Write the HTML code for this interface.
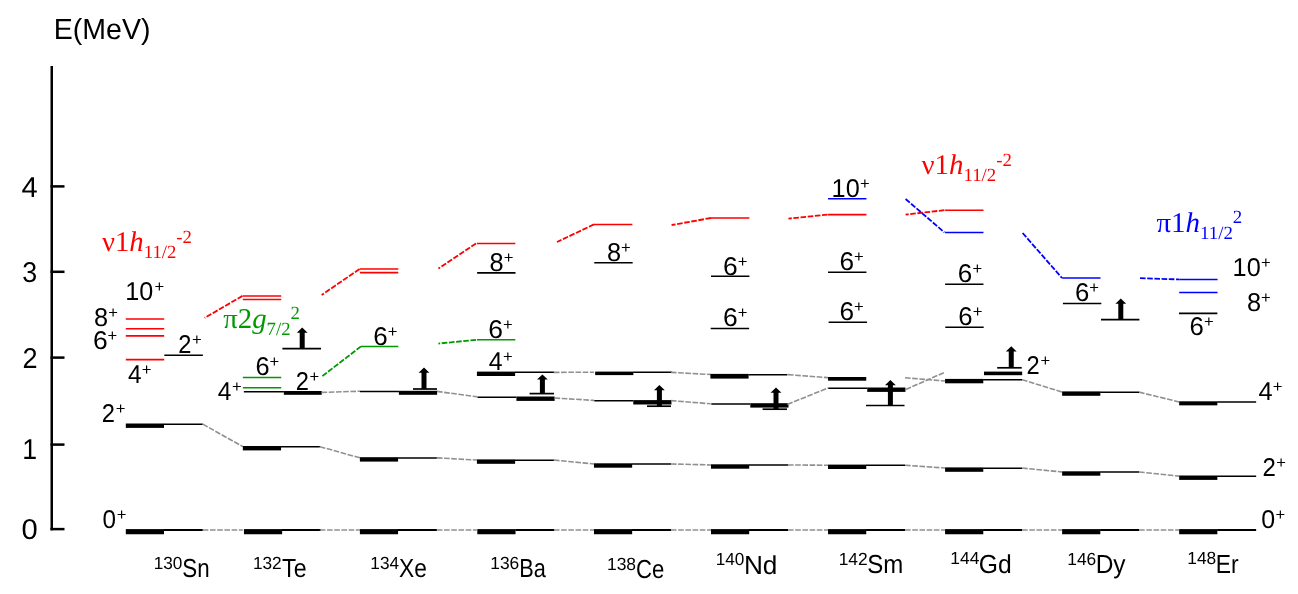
<!DOCTYPE html>
<html><head><meta charset="utf-8"><title>Level systematics N=80</title>
<style>html,body{margin:0;padding:0;background:#fff}svg{display:block}</style></head>
<body><svg width="1298" height="594" viewBox="0 0 1298 594" shape-rendering="auto" text-rendering="geometricPrecision">
<rect width="1298" height="594" fill="#fff"/>
<rect x="50.50" y="66.00" width="2.50" height="464.30" fill="#000"/>
<rect x="50.50" y="185.15" width="14.00" height="2.50" fill="#000"/>
<rect x="50.50" y="270.55" width="14.00" height="2.50" fill="#000"/>
<rect x="50.50" y="356.35" width="14.00" height="2.50" fill="#000"/>
<rect x="50.50" y="443.35" width="14.00" height="2.50" fill="#000"/>
<rect x="50.50" y="527.85" width="14.00" height="2.50" fill="#000"/>
<rect x="125.80" y="529.10" width="38.20" height="5.15" fill="#000"/>
<line x1="163.80" y1="530.00" x2="202.80" y2="530.00" stroke="#000" stroke-width="1.8"/>
<line x1="202.80" y1="530.00" x2="242.84" y2="530.00" stroke="#909090" stroke-width="1.6" stroke-dasharray="5.6 1.6"/>
<rect x="243.94" y="529.10" width="38.20" height="5.15" fill="#000"/>
<line x1="281.94" y1="530.00" x2="320.94" y2="530.00" stroke="#000" stroke-width="1.8"/>
<line x1="319.84" y1="530.00" x2="359.88" y2="530.00" stroke="#909090" stroke-width="1.6" stroke-dasharray="5.6 1.6"/>
<rect x="359.88" y="529.10" width="38.20" height="5.15" fill="#000"/>
<line x1="397.88" y1="530.00" x2="436.88" y2="530.00" stroke="#000" stroke-width="1.8"/>
<line x1="436.88" y1="530.00" x2="476.92" y2="530.00" stroke="#909090" stroke-width="1.6" stroke-dasharray="5.6 1.6"/>
<rect x="477.32" y="529.10" width="38.20" height="5.15" fill="#000"/>
<line x1="515.32" y1="530.00" x2="554.32" y2="530.00" stroke="#000" stroke-width="1.8"/>
<line x1="553.92" y1="530.00" x2="593.96" y2="530.00" stroke="#909090" stroke-width="1.6" stroke-dasharray="5.6 1.6"/>
<rect x="593.96" y="529.10" width="38.20" height="5.15" fill="#000"/>
<line x1="631.96" y1="530.00" x2="670.96" y2="530.00" stroke="#000" stroke-width="1.8"/>
<line x1="670.96" y1="530.00" x2="711.00" y2="530.00" stroke="#909090" stroke-width="1.6" stroke-dasharray="5.6 1.6"/>
<rect x="711.00" y="529.10" width="38.20" height="5.15" fill="#000"/>
<line x1="749.00" y1="530.00" x2="788.00" y2="530.00" stroke="#000" stroke-width="1.8"/>
<line x1="788.00" y1="530.00" x2="828.04" y2="530.00" stroke="#909090" stroke-width="1.6" stroke-dasharray="5.6 1.6"/>
<rect x="828.04" y="529.10" width="38.20" height="5.15" fill="#000"/>
<line x1="866.04" y1="530.00" x2="905.04" y2="530.00" stroke="#000" stroke-width="1.8"/>
<line x1="905.04" y1="530.00" x2="945.08" y2="530.00" stroke="#909090" stroke-width="1.6" stroke-dasharray="5.6 1.6"/>
<rect x="945.08" y="529.10" width="38.20" height="5.15" fill="#000"/>
<line x1="983.08" y1="530.00" x2="1022.08" y2="530.00" stroke="#000" stroke-width="1.8"/>
<line x1="1022.08" y1="530.00" x2="1062.12" y2="530.00" stroke="#909090" stroke-width="1.6" stroke-dasharray="5.6 1.6"/>
<rect x="1062.12" y="529.10" width="38.20" height="5.15" fill="#000"/>
<line x1="1100.12" y1="530.00" x2="1139.12" y2="530.00" stroke="#000" stroke-width="1.8"/>
<line x1="1139.12" y1="530.00" x2="1179.16" y2="530.00" stroke="#909090" stroke-width="1.6" stroke-dasharray="5.6 1.6"/>
<rect x="1179.16" y="529.10" width="38.20" height="5.15" fill="#000"/>
<line x1="1217.16" y1="530.00" x2="1256.16" y2="530.00" stroke="#000" stroke-width="1.8"/>
<rect x="125.80" y="423.50" width="38.20" height="4.40" fill="#000"/>
<line x1="163.80" y1="424.25" x2="202.80" y2="424.25" stroke="#000" stroke-width="1.5"/>
<line x1="202.80" y1="424.15" x2="242.84" y2="446.65" stroke="#909090" stroke-width="1.6" stroke-dasharray="5.6 1.6"/>
<rect x="242.84" y="446.00" width="38.20" height="4.40" fill="#000"/>
<line x1="280.84" y1="446.75" x2="319.84" y2="446.75" stroke="#000" stroke-width="1.5"/>
<line x1="319.84" y1="446.65" x2="359.88" y2="457.85" stroke="#909090" stroke-width="1.6" stroke-dasharray="5.6 1.6"/>
<rect x="359.88" y="457.20" width="38.20" height="4.40" fill="#000"/>
<line x1="397.88" y1="457.95" x2="436.88" y2="457.95" stroke="#000" stroke-width="1.5"/>
<line x1="436.88" y1="457.85" x2="476.92" y2="460.05" stroke="#909090" stroke-width="1.6" stroke-dasharray="5.6 1.6"/>
<rect x="476.92" y="459.40" width="38.20" height="4.40" fill="#000"/>
<line x1="514.92" y1="460.15" x2="553.92" y2="460.15" stroke="#000" stroke-width="1.5"/>
<line x1="553.92" y1="460.05" x2="593.96" y2="463.95" stroke="#909090" stroke-width="1.6" stroke-dasharray="5.6 1.6"/>
<rect x="593.96" y="463.30" width="38.20" height="4.40" fill="#000"/>
<line x1="631.96" y1="464.05" x2="670.96" y2="464.05" stroke="#000" stroke-width="1.5"/>
<line x1="670.96" y1="463.95" x2="711.00" y2="464.95" stroke="#909090" stroke-width="1.6" stroke-dasharray="5.6 1.6"/>
<rect x="711.00" y="464.30" width="38.20" height="4.40" fill="#000"/>
<line x1="749.00" y1="465.05" x2="788.00" y2="465.05" stroke="#000" stroke-width="1.5"/>
<line x1="788.00" y1="464.95" x2="828.04" y2="465.25" stroke="#909090" stroke-width="1.6" stroke-dasharray="5.6 1.6"/>
<rect x="828.04" y="464.60" width="38.20" height="4.40" fill="#000"/>
<line x1="866.04" y1="465.35" x2="905.04" y2="465.35" stroke="#000" stroke-width="1.5"/>
<line x1="905.04" y1="465.25" x2="945.08" y2="468.05" stroke="#909090" stroke-width="1.6" stroke-dasharray="5.6 1.6"/>
<rect x="945.08" y="467.40" width="38.20" height="4.40" fill="#000"/>
<line x1="983.08" y1="468.15" x2="1022.08" y2="468.15" stroke="#000" stroke-width="1.5"/>
<line x1="1022.08" y1="468.05" x2="1062.12" y2="471.95" stroke="#909090" stroke-width="1.6" stroke-dasharray="5.6 1.6"/>
<rect x="1062.12" y="471.30" width="38.20" height="4.40" fill="#000"/>
<line x1="1100.12" y1="472.05" x2="1139.12" y2="472.05" stroke="#000" stroke-width="1.5"/>
<line x1="1139.12" y1="471.95" x2="1179.16" y2="476.15" stroke="#909090" stroke-width="1.6" stroke-dasharray="5.6 1.6"/>
<rect x="1179.16" y="475.50" width="38.20" height="4.40" fill="#000"/>
<line x1="1217.16" y1="476.25" x2="1256.16" y2="476.25" stroke="#000" stroke-width="1.5"/>
<rect x="476.92" y="371.60" width="38.20" height="4.40" fill="#000"/>
<line x1="514.92" y1="372.35" x2="553.92" y2="372.35" stroke="#000" stroke-width="1.5"/>
<line x1="553.92" y1="372.35" x2="593.96" y2="372.25" stroke="#909090" stroke-width="1.6" stroke-dasharray="5.6 1.6"/>
<rect x="595.16" y="371.60" width="38.20" height="3.50" fill="#000"/>
<line x1="633.16" y1="372.35" x2="672.16" y2="372.35" stroke="#000" stroke-width="1.5"/>
<line x1="670.96" y1="372.35" x2="711.00" y2="374.55" stroke="#909090" stroke-width="1.6" stroke-dasharray="5.6 1.6"/>
<rect x="710.40" y="373.90" width="38.20" height="4.70" fill="#000"/>
<line x1="748.40" y1="374.65" x2="787.40" y2="374.65" stroke="#000" stroke-width="1.5"/>
<line x1="788.00" y1="374.65" x2="828.04" y2="377.65" stroke="#909090" stroke-width="1.6" stroke-dasharray="5.6 1.6"/>
<rect x="828.04" y="377.00" width="38.20" height="3.70" fill="#000"/>
<line x1="905.04" y1="377.75" x2="945.08" y2="381.05" stroke="#909090" stroke-width="1.6" stroke-dasharray="5.6 1.6"/>
<rect x="945.08" y="378.90" width="38.20" height="4.40" fill="#000"/>
<line x1="983.08" y1="379.65" x2="1022.08" y2="379.65" stroke="#000" stroke-width="1.5"/>
<line x1="1022.08" y1="379.65" x2="1062.12" y2="392.05" stroke="#909090" stroke-width="1.6" stroke-dasharray="5.6 1.6"/>
<rect x="1062.12" y="391.40" width="38.20" height="4.40" fill="#000"/>
<line x1="1100.12" y1="392.15" x2="1139.12" y2="392.15" stroke="#000" stroke-width="1.5"/>
<line x1="1139.12" y1="392.15" x2="1179.16" y2="401.95" stroke="#909090" stroke-width="1.6" stroke-dasharray="5.6 1.6"/>
<rect x="1179.16" y="401.30" width="38.20" height="4.05" fill="#000"/>
<line x1="1217.16" y1="402.05" x2="1256.16" y2="402.05" stroke="#000" stroke-width="1.5"/>
<line x1="243.84" y1="391.75" x2="283.84" y2="391.75" stroke="#000" stroke-width="1.5"/>
<rect x="283.84" y="391.00" width="37.90" height="3.80" fill="#000"/>
<line x1="359.88" y1="391.55" x2="398.88" y2="391.55" stroke="#000" stroke-width="1.5"/>
<rect x="398.88" y="390.80" width="38.20" height="4.00" fill="#000"/>
<line x1="477.42" y1="397.25" x2="516.42" y2="397.25" stroke="#000" stroke-width="1.5"/>
<rect x="516.42" y="396.50" width="38.20" height="4.40" fill="#000"/>
<line x1="594.26" y1="400.85" x2="633.26" y2="400.85" stroke="#000" stroke-width="1.5"/>
<rect x="633.26" y="400.10" width="38.20" height="4.40" fill="#000"/>
<line x1="711.30" y1="403.95" x2="750.30" y2="403.95" stroke="#000" stroke-width="1.5"/>
<rect x="750.30" y="403.20" width="38.20" height="4.40" fill="#000"/>
<line x1="828.24" y1="388.25" x2="867.24" y2="388.25" stroke="#000" stroke-width="1.5"/>
<rect x="867.24" y="387.50" width="38.20" height="4.40" fill="#000"/>
<rect x="983.98" y="371.60" width="38.20" height="3.60" fill="#000"/>
<line x1="321.60" y1="392.40" x2="360.00" y2="391.20" stroke="#909090" stroke-width="1.6" stroke-dasharray="5.6 1.6"/>
<line x1="437.00" y1="391.40" x2="477.40" y2="396.80" stroke="#909090" stroke-width="1.6" stroke-dasharray="5.6 1.6"/>
<line x1="554.60" y1="398.00" x2="594.00" y2="400.40" stroke="#909090" stroke-width="1.6" stroke-dasharray="5.6 1.6"/>
<line x1="671.00" y1="400.60" x2="710.60" y2="403.80" stroke="#909090" stroke-width="1.6" stroke-dasharray="5.6 1.6"/>
<line x1="787.40" y1="404.40" x2="828.00" y2="388.00" stroke="#909090" stroke-width="1.6" stroke-dasharray="5.6 1.6"/>
<line x1="905.80" y1="389.50" x2="944.20" y2="372.50" stroke="#909090" stroke-width="1.6" stroke-dasharray="5.6 1.6"/>
<line x1="282.40" y1="348.60" x2="321.00" y2="348.60" stroke="#000" stroke-width="1.7"/>
<path d="M302.20 327.60 L307.60 332.80 L304.70 332.80 L304.70 348.60 L299.70 348.60 L299.70 332.80 L296.80 332.80 Z" fill="#000"/>
<line x1="413.00" y1="389.00" x2="437.00" y2="389.00" stroke="#000" stroke-width="1.7"/>
<path d="M424.00 367.60 L429.40 372.80 L426.50 372.80 L426.50 389.00 L421.50 389.00 L421.50 372.80 L418.60 372.80 Z" fill="#000"/>
<line x1="529.60" y1="393.60" x2="554.00" y2="393.60" stroke="#000" stroke-width="1.7"/>
<path d="M542.40 374.40 L547.80 379.60 L544.90 379.60 L544.90 393.60 L539.90 393.60 L539.90 379.60 L537.00 379.60 Z" fill="#000"/>
<line x1="647.00" y1="406.20" x2="671.00" y2="406.20" stroke="#000" stroke-width="1.7"/>
<path d="M659.40 385.00 L664.80 390.20 L661.90 390.20 L661.90 406.20 L656.90 406.20 L656.90 390.20 L654.00 390.20 Z" fill="#000"/>
<line x1="762.60" y1="409.20" x2="787.00" y2="409.20" stroke="#000" stroke-width="1.7"/>
<path d="M776.00 387.60 L781.40 392.80 L778.50 392.80 L778.50 409.20 L773.50 409.20 L773.50 392.80 L770.60 392.80 Z" fill="#000"/>
<line x1="866.00" y1="405.50" x2="904.50" y2="405.50" stroke="#000" stroke-width="1.7"/>
<path d="M890.40 380.00 L895.80 385.20 L892.90 385.20 L892.90 405.50 L887.90 405.50 L887.90 385.20 L885.00 385.20 Z" fill="#000"/>
<line x1="997.20" y1="367.80" x2="1021.70" y2="367.80" stroke="#000" stroke-width="1.7"/>
<path d="M1011.25 346.30 L1016.65 351.50 L1013.75 351.50 L1013.75 367.80 L1008.75 367.80 L1008.75 351.50 L1005.85 351.50 Z" fill="#000"/>
<line x1="1101.00" y1="319.70" x2="1139.40" y2="319.70" stroke="#000" stroke-width="1.7"/>
<path d="M1120.80 298.60 L1126.20 303.80 L1123.30 303.80 L1123.30 319.70 L1118.30 319.70 L1118.30 303.80 L1115.40 303.80 Z" fill="#000"/>
<line x1="164.30" y1="355.30" x2="202.90" y2="355.30" stroke="#000" stroke-width="1.6"/>
<line x1="125.80" y1="319.00" x2="164.20" y2="319.00" stroke="#ff0000" stroke-width="1.55"/>
<line x1="125.80" y1="328.70" x2="164.20" y2="328.70" stroke="#ff0000" stroke-width="1.55"/>
<line x1="125.80" y1="335.85" x2="164.20" y2="335.85" stroke="#ff0000" stroke-width="1.55"/>
<line x1="125.80" y1="359.60" x2="164.20" y2="359.60" stroke="#ff0000" stroke-width="1.55"/>
<line x1="242.84" y1="296.00" x2="281.24" y2="296.00" stroke="#ff0000" stroke-width="1.55"/>
<line x1="242.84" y1="299.50" x2="281.24" y2="299.50" stroke="#ff0000" stroke-width="1.55"/>
<line x1="242.50" y1="295.90" x2="204.60" y2="317.90" stroke="#ff0000" stroke-width="1.8" stroke-dasharray="5.6 1.6"/>
<line x1="359.88" y1="269.00" x2="398.28" y2="269.00" stroke="#ff0000" stroke-width="1.55"/>
<line x1="359.88" y1="272.60" x2="398.28" y2="272.60" stroke="#ff0000" stroke-width="1.55"/>
<line x1="359.60" y1="269.00" x2="321.60" y2="295.00" stroke="#ff0000" stroke-width="1.8" stroke-dasharray="5.6 1.6"/>
<line x1="476.92" y1="243.40" x2="515.32" y2="243.40" stroke="#ff0000" stroke-width="1.55"/>
<line x1="476.00" y1="243.40" x2="438.40" y2="268.60" stroke="#ff0000" stroke-width="1.8" stroke-dasharray="5.6 1.6"/>
<line x1="593.96" y1="224.40" x2="632.36" y2="224.40" stroke="#ff0000" stroke-width="1.55"/>
<line x1="594.00" y1="224.40" x2="557.00" y2="242.00" stroke="#ff0000" stroke-width="1.8" stroke-dasharray="5.6 1.6"/>
<line x1="711.00" y1="218.00" x2="749.40" y2="218.00" stroke="#ff0000" stroke-width="1.55"/>
<line x1="711.00" y1="218.00" x2="671.60" y2="225.00" stroke="#ff0000" stroke-width="1.8" stroke-dasharray="5.6 1.6"/>
<line x1="828.04" y1="214.60" x2="866.44" y2="214.60" stroke="#ff0000" stroke-width="1.55"/>
<line x1="827.60" y1="214.60" x2="788.40" y2="218.60" stroke="#ff0000" stroke-width="1.8" stroke-dasharray="5.6 1.6"/>
<line x1="945.08" y1="210.20" x2="983.48" y2="210.20" stroke="#ff0000" stroke-width="1.55"/>
<line x1="944.40" y1="210.20" x2="905.60" y2="214.60" stroke="#ff0000" stroke-width="1.8" stroke-dasharray="5.6 1.6"/>
<line x1="828.04" y1="198.80" x2="866.44" y2="198.80" stroke="#0000ff" stroke-width="1.55"/>
<line x1="945.08" y1="232.40" x2="983.48" y2="232.40" stroke="#0000ff" stroke-width="1.55"/>
<line x1="905.60" y1="199.00" x2="944.40" y2="232.40" stroke="#0000ff" stroke-width="1.8" stroke-dasharray="5.6 1.6"/>
<line x1="1062.12" y1="278.00" x2="1100.52" y2="278.00" stroke="#0000ff" stroke-width="1.55"/>
<line x1="1022.60" y1="233.00" x2="1062.00" y2="278.00" stroke="#0000ff" stroke-width="1.8" stroke-dasharray="5.6 1.6"/>
<line x1="1179.16" y1="279.40" x2="1217.56" y2="279.40" stroke="#0000ff" stroke-width="1.55"/>
<line x1="1179.16" y1="292.40" x2="1217.56" y2="292.40" stroke="#0000ff" stroke-width="1.55"/>
<line x1="1140.00" y1="278.20" x2="1179.00" y2="279.40" stroke="#0000ff" stroke-width="1.8" stroke-dasharray="5.6 1.6"/>
<line x1="242.84" y1="377.40" x2="281.24" y2="377.40" stroke="#009900" stroke-width="1.55"/>
<line x1="242.84" y1="387.80" x2="281.24" y2="387.80" stroke="#009900" stroke-width="1.55"/>
<line x1="361.00" y1="346.40" x2="398.28" y2="346.40" stroke="#009900" stroke-width="1.55"/>
<line x1="361.00" y1="346.40" x2="322.00" y2="376.40" stroke="#009900" stroke-width="1.8" stroke-dasharray="5.6 1.6"/>
<line x1="476.92" y1="339.80" x2="515.32" y2="339.80" stroke="#009900" stroke-width="1.55"/>
<line x1="476.00" y1="339.80" x2="438.40" y2="343.60" stroke="#009900" stroke-width="1.8" stroke-dasharray="5.6 1.6"/>
<line x1="477.12" y1="272.90" x2="515.52" y2="272.90" stroke="#000" stroke-width="1.6"/>
<line x1="594.26" y1="262.80" x2="632.66" y2="262.80" stroke="#000" stroke-width="1.6"/>
<line x1="711.00" y1="276.30" x2="749.40" y2="276.30" stroke="#000" stroke-width="1.6"/>
<line x1="710.70" y1="328.50" x2="749.10" y2="328.50" stroke="#000" stroke-width="1.6"/>
<line x1="828.04" y1="272.30" x2="866.44" y2="272.30" stroke="#000" stroke-width="1.6"/>
<line x1="828.64" y1="322.30" x2="867.04" y2="322.30" stroke="#000" stroke-width="1.6"/>
<line x1="945.08" y1="284.30" x2="983.48" y2="284.30" stroke="#000" stroke-width="1.6"/>
<line x1="945.28" y1="327.30" x2="983.68" y2="327.30" stroke="#000" stroke-width="1.6"/>
<line x1="1062.92" y1="303.50" x2="1101.32" y2="303.50" stroke="#000" stroke-width="1.6"/>
<line x1="1178.96" y1="313.40" x2="1217.36" y2="313.40" stroke="#000" stroke-width="1.6"/>
<text fill="#000" font-family='"Liberation Sans", sans-serif'><tspan x="21.55" y="196.80" font-size="28.6" textLength="16.18" lengthAdjust="spacingAndGlyphs">4</tspan></text>
<text fill="#000" font-family='"Liberation Sans", sans-serif'><tspan x="22.16" y="282.20" font-size="28.6" textLength="14.93" lengthAdjust="spacingAndGlyphs">3</tspan></text>
<text fill="#000" font-family='"Liberation Sans", sans-serif'><tspan x="22.43" y="368.00" font-size="28.6" textLength="15.07" lengthAdjust="spacingAndGlyphs">2</tspan></text>
<text fill="#000" font-family='"Liberation Sans", sans-serif'><tspan x="22.33" y="459.00" font-size="28.6" textLength="14.85" lengthAdjust="spacingAndGlyphs">1</tspan></text>
<text fill="#000" font-family='"Liberation Sans", sans-serif'><tspan x="21.49" y="538.80" font-size="28.6" textLength="16.24" lengthAdjust="spacingAndGlyphs">0</tspan></text>
<text fill="#000" font-family='"Liberation Sans", sans-serif'><tspan x="53.77" y="39.00" font-size="29" textLength="96.71" lengthAdjust="spacingAndGlyphs">E(MeV)</tspan></text>
<text fill="#000" font-family='"Liberation Sans", sans-serif'><tspan x="125.33" y="300.00" font-size="25.7" textLength="28.00" lengthAdjust="spacingAndGlyphs">10</tspan><tspan x="154.42" y="292.00" font-size="16.6">+</tspan></text>
<text fill="#000" font-family='"Liberation Sans", sans-serif'><tspan x="94.11" y="325.75" font-size="25.7" textLength="14.12" lengthAdjust="spacingAndGlyphs">8</tspan><tspan x="108.22" y="317.75" font-size="16.6">+</tspan></text>
<text fill="#000" font-family='"Liberation Sans", sans-serif'><tspan x="93.06" y="349.10" font-size="25.7" textLength="14.71" lengthAdjust="spacingAndGlyphs">6</tspan><tspan x="107.42" y="341.10" font-size="16.6">+</tspan></text>
<text fill="#000" font-family='"Liberation Sans", sans-serif'><tspan x="128.02" y="383.40" font-size="25.7" textLength="13.59" lengthAdjust="spacingAndGlyphs">4</tspan><tspan x="141.72" y="375.40" font-size="16.6">+</tspan></text>
<text fill="#000" font-family='"Liberation Sans", sans-serif'><tspan x="178.29" y="353.10" font-size="25.7" textLength="13.17" lengthAdjust="spacingAndGlyphs">2</tspan><tspan x="192.02" y="345.10" font-size="16.6">+</tspan></text>
<text fill="#000" font-family='"Liberation Sans", sans-serif'><tspan x="101.84" y="422.30" font-size="25.7" textLength="13.18" lengthAdjust="spacingAndGlyphs">2</tspan><tspan x="115.82" y="414.30" font-size="16.6">+</tspan></text>
<text fill="#000" font-family='"Liberation Sans", sans-serif'><tspan x="102.39" y="528.00" font-size="25.7" textLength="13.51" lengthAdjust="spacingAndGlyphs">0</tspan><tspan x="116.72" y="520.00" font-size="16.6">+</tspan></text>
<text fill="#000" font-family='"Liberation Sans", sans-serif'><tspan x="255.51" y="375.10" font-size="25.7" textLength="14.12" lengthAdjust="spacingAndGlyphs">6</tspan><tspan x="269.62" y="367.10" font-size="16.6">+</tspan></text>
<text fill="#000" font-family='"Liberation Sans", sans-serif'><tspan x="217.72" y="400.35" font-size="25.7" textLength="13.70" lengthAdjust="spacingAndGlyphs">4</tspan><tspan x="232.02" y="392.35" font-size="16.6">+</tspan></text>
<text fill="#000" font-family='"Liberation Sans", sans-serif'><tspan x="295.79" y="389.70" font-size="25.7" textLength="13.17" lengthAdjust="spacingAndGlyphs">2</tspan><tspan x="309.47" y="381.70" font-size="16.6">+</tspan></text>
<text fill="#000" font-family='"Liberation Sans", sans-serif'><tspan x="373.18" y="344.75" font-size="25.7" textLength="14.47" lengthAdjust="spacingAndGlyphs">6</tspan><tspan x="387.82" y="336.75" font-size="16.6">+</tspan></text>
<text fill="#000" font-family='"Liberation Sans", sans-serif'><tspan x="489.61" y="270.55" font-size="25.7" textLength="14.12" lengthAdjust="spacingAndGlyphs">8</tspan><tspan x="503.72" y="262.55" font-size="16.6">+</tspan></text>
<text fill="#000" font-family='"Liberation Sans", sans-serif'><tspan x="488.36" y="337.85" font-size="25.7" textLength="14.71" lengthAdjust="spacingAndGlyphs">6</tspan><tspan x="503.02" y="329.85" font-size="16.6">+</tspan></text>
<text fill="#000" font-family='"Liberation Sans", sans-serif'><tspan x="488.81" y="370.30" font-size="25.7" textLength="13.81" lengthAdjust="spacingAndGlyphs">4</tspan><tspan x="503.02" y="362.30" font-size="16.6">+</tspan></text>
<text fill="#000" font-family='"Liberation Sans", sans-serif'><tspan x="606.91" y="260.55" font-size="25.7" textLength="14.12" lengthAdjust="spacingAndGlyphs">8</tspan><tspan x="621.02" y="252.55" font-size="16.6">+</tspan></text>
<text fill="#000" font-family='"Liberation Sans", sans-serif'><tspan x="723.06" y="274.55" font-size="25.7" textLength="14.71" lengthAdjust="spacingAndGlyphs">6</tspan><tspan x="737.72" y="266.55" font-size="16.6">+</tspan></text>
<text fill="#000" font-family='"Liberation Sans", sans-serif'><tspan x="723.06" y="326.35" font-size="25.7" textLength="14.71" lengthAdjust="spacingAndGlyphs">6</tspan><tspan x="737.72" y="318.35" font-size="16.6">+</tspan></text>
<text fill="#000" font-family='"Liberation Sans", sans-serif'><tspan x="831.62" y="197.25" font-size="25.7" textLength="28.11" lengthAdjust="spacingAndGlyphs">10</tspan><tspan x="860.12" y="189.25" font-size="16.6">+</tspan></text>
<text fill="#000" font-family='"Liberation Sans", sans-serif'><tspan x="839.47" y="270.20" font-size="25.7" textLength="14.59" lengthAdjust="spacingAndGlyphs">6</tspan><tspan x="854.02" y="262.20" font-size="16.6">+</tspan></text>
<text fill="#000" font-family='"Liberation Sans", sans-serif'><tspan x="839.47" y="320.05" font-size="25.7" textLength="14.59" lengthAdjust="spacingAndGlyphs">6</tspan><tspan x="854.02" y="312.05" font-size="16.6">+</tspan></text>
<text fill="#000" font-family='"Liberation Sans", sans-serif'><tspan x="957.78" y="282.05" font-size="25.7" textLength="14.47" lengthAdjust="spacingAndGlyphs">6</tspan><tspan x="972.42" y="274.05" font-size="16.6">+</tspan></text>
<text fill="#000" font-family='"Liberation Sans", sans-serif'><tspan x="958.29" y="325.00" font-size="25.7">6</tspan><tspan x="972.82" y="317.00" font-size="16.6">+</tspan></text>
<text fill="#000" font-family='"Liberation Sans", sans-serif'><tspan x="1026.59" y="373.90" font-size="25.7" textLength="13.17" lengthAdjust="spacingAndGlyphs">2</tspan><tspan x="1040.62" y="365.90" font-size="16.6">+</tspan></text>
<text fill="#000" font-family='"Liberation Sans", sans-serif'><tspan x="1074.89" y="301.25" font-size="25.7">6</tspan><tspan x="1089.32" y="293.25" font-size="16.6">+</tspan></text>
<text fill="#000" font-family='"Liberation Sans", sans-serif'><tspan x="1189.49" y="334.65" font-size="25.7">6</tspan><tspan x="1204.12" y="326.65" font-size="16.6">+</tspan></text>
<text fill="#000" font-family='"Liberation Sans", sans-serif'><tspan x="1232.62" y="276.05" font-size="25.7" textLength="28.11" lengthAdjust="spacingAndGlyphs">10</tspan><tspan x="1261.12" y="268.05" font-size="16.6">+</tspan></text>
<text fill="#000" font-family='"Liberation Sans", sans-serif'><tspan x="1247.01" y="310.80" font-size="25.7" textLength="14.12" lengthAdjust="spacingAndGlyphs">8</tspan><tspan x="1261.12" y="302.80" font-size="16.6">+</tspan></text>
<text fill="#000" font-family='"Liberation Sans", sans-serif'><tspan x="1258.50" y="400.10" font-size="25.7" textLength="14.13" lengthAdjust="spacingAndGlyphs">4</tspan><tspan x="1272.82" y="392.10" font-size="16.6">+</tspan></text>
<text fill="#000" font-family='"Liberation Sans", sans-serif'><tspan x="1262.53" y="476.30" font-size="25.7" textLength="13.35" lengthAdjust="spacingAndGlyphs">2</tspan><tspan x="1276.32" y="468.30" font-size="16.6">+</tspan></text>
<text fill="#000" font-family='"Liberation Sans", sans-serif'><tspan x="1261.32" y="528.35" font-size="25.7" textLength="13.90" lengthAdjust="spacingAndGlyphs">0</tspan><tspan x="1275.52" y="520.35" font-size="16.6">+</tspan></text>
<text fill="#000" font-family='"Liberation Sans", sans-serif'><tspan x="153.72" y="568.60" font-size="17.6" textLength="28.70" lengthAdjust="spacingAndGlyphs">130</tspan><tspan x="182.30" y="577.30" font-size="26" textLength="27.35" lengthAdjust="spacingAndGlyphs">Sn</tspan></text>
<text fill="#000" font-family='"Liberation Sans", sans-serif'><tspan x="252.92" y="568.60" font-size="17.6" textLength="28.78" lengthAdjust="spacingAndGlyphs">132</tspan><tspan x="282.04" y="577.30" font-size="26" textLength="24.50" lengthAdjust="spacingAndGlyphs">Te</tspan></text>
<text fill="#000" font-family='"Liberation Sans", sans-serif'><tspan x="370.32" y="568.60" font-size="17.6" textLength="28.70" lengthAdjust="spacingAndGlyphs">134</tspan><tspan x="399.04" y="577.30" font-size="26" textLength="27.88" lengthAdjust="spacingAndGlyphs">Xe</tspan></text>
<text fill="#000" font-family='"Liberation Sans", sans-serif'><tspan x="490.31" y="568.60" font-size="17.6" textLength="28.99" lengthAdjust="spacingAndGlyphs">136</tspan><tspan x="519.30" y="577.30" font-size="26" textLength="26.56" lengthAdjust="spacingAndGlyphs">Ba</tspan></text>
<text fill="#000" font-family='"Liberation Sans", sans-serif'><tspan x="606.91" y="569.60" font-size="17.6" textLength="29.20" lengthAdjust="spacingAndGlyphs">138</tspan><tspan x="635.96" y="578.30" font-size="26" textLength="28.34" lengthAdjust="spacingAndGlyphs">Ce</tspan></text>
<text fill="#000" font-family='"Liberation Sans", sans-serif'><tspan x="715.72" y="565.00" font-size="17.6" textLength="28.70" lengthAdjust="spacingAndGlyphs">140</tspan><tspan x="743.95" y="573.70" font-size="26" textLength="33.52" lengthAdjust="spacingAndGlyphs">Nd</tspan></text>
<text fill="#000" font-family='"Liberation Sans", sans-serif'><tspan x="838.71" y="564.60" font-size="17.6" textLength="28.99" lengthAdjust="spacingAndGlyphs">142</tspan><tspan x="867.25" y="573.30" font-size="26" textLength="35.99" lengthAdjust="spacingAndGlyphs">Sm</tspan></text>
<text fill="#000" font-family='"Liberation Sans", sans-serif'><tspan x="950.31" y="564.40" font-size="17.6" textLength="29.13" lengthAdjust="spacingAndGlyphs">144</tspan><tspan x="978.84" y="573.10" font-size="26" textLength="32.94" lengthAdjust="spacingAndGlyphs">Gd</tspan></text>
<text fill="#000" font-family='"Liberation Sans", sans-serif'><tspan x="1067.31" y="564.60" font-size="17.6" textLength="28.99" lengthAdjust="spacingAndGlyphs">146</tspan><tspan x="1095.69" y="573.30" font-size="26" textLength="29.91" lengthAdjust="spacingAndGlyphs">Dy</tspan></text>
<text fill="#000" font-family='"Liberation Sans", sans-serif'><tspan x="1187.31" y="564.40" font-size="17.6" textLength="28.99" lengthAdjust="spacingAndGlyphs">148</tspan><tspan x="1215.81" y="573.10" font-size="26" textLength="22.90" lengthAdjust="spacingAndGlyphs">Er</tspan></text>
<text fill="#ff0000" font-family='"Liberation Serif", serif'><tspan x="102.00" y="251.00" font-size="28.6" textLength="27.38" lengthAdjust="spacingAndGlyphs">ν1</tspan><tspan x="129.38" y="251.00" font-size="28.6" textLength="14.38" lengthAdjust="spacingAndGlyphs" font-style="italic">h</tspan><tspan x="143.75" y="258.00" font-size="18.6" textLength="32.55" lengthAdjust="spacingAndGlyphs">11/2</tspan><tspan x="176.30" y="242.60" font-size="18.6" textLength="15.58" lengthAdjust="spacingAndGlyphs">-2</tspan></text>
<text fill="#ff0000" font-family='"Liberation Serif", serif'><tspan x="921.40" y="174.00" font-size="28.6" textLength="27.56" lengthAdjust="spacingAndGlyphs">ν1</tspan><tspan x="948.96" y="174.00" font-size="28.6" textLength="14.47" lengthAdjust="spacingAndGlyphs" font-style="italic">h</tspan><tspan x="963.43" y="181.00" font-size="18.6" textLength="32.77" lengthAdjust="spacingAndGlyphs">11/2</tspan><tspan x="996.20" y="165.60" font-size="18.6" textLength="15.68" lengthAdjust="spacingAndGlyphs">-2</tspan></text>
<text fill="#009900" font-family='"Liberation Serif", serif'><tspan x="223.30" y="327.50" font-size="28.6" textLength="28.92" lengthAdjust="spacingAndGlyphs">π2</tspan><tspan x="252.22" y="327.50" font-size="28.6" textLength="14.39" lengthAdjust="spacingAndGlyphs" font-style="italic">g</tspan><tspan x="266.61" y="334.50" font-size="18.6" textLength="23.91" lengthAdjust="spacingAndGlyphs">7/2</tspan><tspan x="290.52" y="319.10" font-size="18.6" textLength="9.36" lengthAdjust="spacingAndGlyphs">2</tspan></text>
<text fill="#0000ff" font-family='"Liberation Serif", serif'><tspan x="1156.40" y="231.60" font-size="28.6" textLength="29.14" lengthAdjust="spacingAndGlyphs">π1</tspan><tspan x="1185.54" y="231.60" font-size="28.6" textLength="14.50" lengthAdjust="spacingAndGlyphs" font-style="italic">h</tspan><tspan x="1200.03" y="238.60" font-size="18.6" textLength="32.82" lengthAdjust="spacingAndGlyphs">11/2</tspan><tspan x="1232.86" y="223.20" font-size="18.6" textLength="9.43" lengthAdjust="spacingAndGlyphs">2</tspan></text>
</svg></body></html>
